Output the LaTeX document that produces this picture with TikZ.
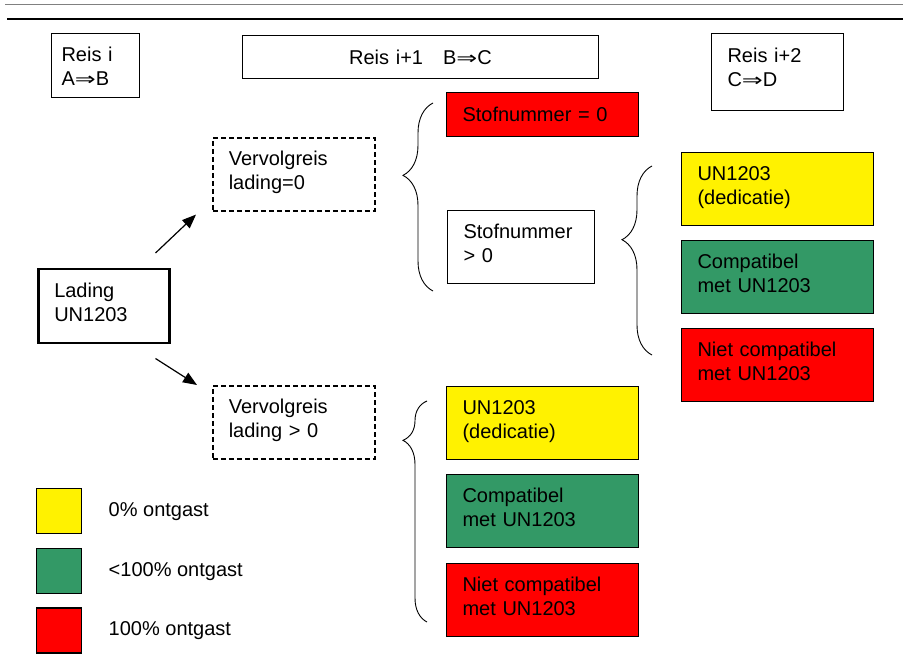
\documentclass[tikz,border=0pt]{standalone}
\usepackage{fontspec}
\setmainfont{Liberation Sans}
\newfontfamily\arrowfont{DejaVu Sans}
\usetikzlibrary{positioning, arrows.meta, decorations.pathreplacing}
\definecolor{zeegroen}{RGB}{51,153,102}
\newcommand{\dimp}{\scalebox{1.25}[0.9]{\arrowfont ⇒}}

\begin{document}
\begin{tikzpicture}[
    x=1pt, y=-1pt,
    node distance=14pt,
    every node/.style={font=\fontsize{20}{24}\selectfont},
    box/.style={draw, line width=1pt, align=left, anchor=north west,
                inner xsep=16pt, inner ysep=0pt, minimum height=73pt},
    boven/.style={text height=28pt, text depth=#1},
    kleur/.style={box, text width=160pt},
    geel/.style={kleur, boven=45pt, fill=yellow},
    groen/.style={kleur, boven=45pt, fill=zeegroen},
    rood/.style={kleur, fill=red},
    vervolg/.style={box, boven=45pt, dash pattern=on 5pt off 3pt,
                    line width=1.6pt, text width=130pt},
    accolade/.style 2 args={decorate, line width=0.9pt,
                    decoration={brace, mirror, amplitude=#1, aspect=#2}},
    arr/.style={-{Triangle[length=14pt, width=11pt]}, line width=1.2pt},
    legenda/.style={draw, line width=1.2pt, minimum size=45pt, inner sep=0pt,
                    anchor=north west}
  ]
    \useasboundingbox (0,0) rectangle (903,660);
    % kopregel
    \draw[gray, line width=1pt] (5,5) -- (903,5);
    \draw[line width=2pt] (7,19) -- (903,19);

    % reizen
    \node[box, boven=36pt, minimum height=64pt, text width=68pt, inner xsep=10pt] (reis1) at (51,33) {Reis i\\A\dimp B};
    \node[box, align=center, text width=324pt, minimum height=43pt] (reis2) at (242,35) {Reis i+1~~~B\dimp C};
    \node[box, boven=48pt, text width=100pt, text height=29pt] (reis3) at (711,33) {Reis i+2\\C\dimp D};

    \node[box, boven=46pt, line width=2.5pt, text width=99pt] (lading) at (37,268) {Lading\\UN1203};
    \node[vervolg] (verv0) at (212,137) {Vervolgreis\\lading=0};
    \node[vervolg] (vervpos) at (212,385) {Vervolgreis\\lading > 0};

    % lading = 0
    \node[rood, minimum height=44pt] (stof0) at (446,92) {Stofnummer = 0};
    \node[box, boven=45pt, text width=115pt] (stofpos) at (447,210) {Stofnummer\\> 0};
    \node[geel] (ded1) at (681,152) {UN1203\\(dedicatie)};
    \node[groen, below=of ded1] (comp1) {Compatibel\\met UN1203};
    \node[rood, boven=45pt, below=of comp1] (niet1) {Niet compatibel\\met UN1203};

    % lading > 0
    \node[geel] (ded2) at (446,386) {UN1203\\(dedicatie)};
    \node[groen, below=of ded2] (comp2) {Compatibel\\met UN1203};
    \node[rood, boven=45pt, below=15pt of comp2] (niet2) {Niet compatibel\\met UN1203};

    % legenda
    \node[legenda, fill=yellow] (lgeel) at (36,488) {};
    \node[legenda, fill=zeegroen, below=14pt of lgeel] (lgroen) {};
    \node[legenda, fill=red, below=13pt of lgroen] (lrood) {};
    \node[right=23pt of lgeel] (tgeel) {0\% ontgast};
    \node[right=23pt of lgroen] (tgroen) {<100\% ontgast};
    \node[right=23pt of lrood] (trood) {100\% ontgast};

    \draw[arr] ([shift={(-15,-15)}]lading.north east) -- ([shift={(-16,3)}]verv0.south west);
    \draw[arr] ([shift={(-15,14)}]lading.south east) -- ([shift={(-15,0)}]vervpos.north west);

    \draw[accolade={30pt}{0.385}] ([shift={(-13,11)}]stof0.north west) -- ([shift={(-14,7)}]stofpos.south west);
    \draw[accolade={30pt}{0.39}] ([shift={(-29,14)}]ded1.north west) -- ([shift={(-29,-47)}]niet1.south west);
    \draw[accolade={24pt}{0.178}] ([shift={(-19,15)}]ded2.north west) -- ([shift={(-19,-15)}]niet2.south west);
  \end{tikzpicture}
\end{document}
